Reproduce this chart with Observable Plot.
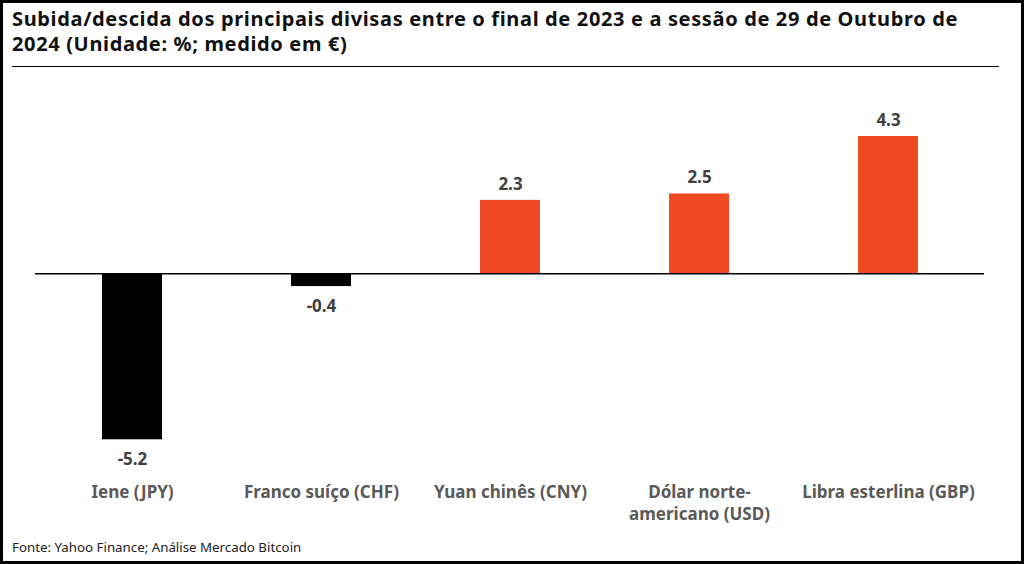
<!DOCTYPE html>
<html>
<head>
<meta charset="utf-8">
<script src="https://cdn.jsdelivr.net/npm/d3@7"></script>
<script src="https://cdn.jsdelivr.net/npm/@observablehq/plot@0.6"></script>
<style>
  html, body { margin: 0; padding: 0; background: #fff; }
  body { width: 1024px; height: 564px; position: relative; overflow: hidden; font-family: "Noto Sans", sans-serif; }
  #frame { position: absolute; left: 0; top: 0; width: 1024px; height: 564px; box-sizing: border-box; border: 3px solid #000; pointer-events: none; }
  #title { position: absolute; left: 12px; top: 6px; font-size: 20px; line-height: 25px; font-weight: 700; color: #111; white-space: nowrap; }
  #title span { display: inline-block; }
  #rule { position: absolute; left: 12px; top: 65.5px; width: 987px; height: 1.5px; background: #000; }
  #chart { position: absolute; left: 0; top: 80px; }
  #caption { position: absolute; left: 12px; top: 538px; font-size: 13.3px; color: #222; }
</style>
</head>
<body>
<div id="title"><span id="t1">Subida/descida dos principais divisas entre o final de 2023 e a sessão de 29 de Outubro de</span><br><span id="t2">2024 (Unidade: %; medido em €)</span></div>
<div id="rule"></div>
<div id="chart"></div>
<div id="caption">Fonte: Yahoo Finance; Análise Mercado Bitcoin</div>
<div id="frame"></div>
<script>
const categories = ["Iene (JPY)", "Franco suíço (CHF)", "Yuan chinês (CNY)", "Dólar norte-americano (USD)", "Libra esterlina (GBP)"];
const values = [-5.2, -0.4, 2.3, 2.5, 4.3];
const labels = ["-5.2", "-0.4", "2.3", "2.5", "4.3"];

const data = categories.map((c, i) => ({name: c, value: values[i], label: labels[i]}));

// fit title first line width to reference
const t1 = document.getElementById("t1");
const target = 946;
const w = t1.getBoundingClientRect().width;
const ls = (target - w) / t1.textContent.length;
t1.style.letterSpacing = ls + "px";
document.getElementById("t2").style.letterSpacing = ls + "px";

const chart = Plot.plot({
  width: 1024,
  height: 460,
  marginLeft: 35,
  marginRight: 40,
  marginTop: 56,
  marginBottom: 100.7,
  style: {fontFamily: "'Noto Sans', sans-serif", background: "transparent"},
  x: {domain: categories, paddingInner: 0.684, paddingOuter: 0.342, label: null},
  y: {domain: [-5.2, 4.3], axis: null},
  marks: [
    Plot.barY(data, {x: "name", y: "value", fill: d => d.value < 0 ? "#000000" : "#EF4A24"}),
    Plot.ruleY([0], {stroke: "#000", strokeWidth: 1.5}),
    Plot.text(data.filter(d => d.value >= 0), {x: "name", y: "value", text: "label", dy: -16, lineAnchor: "middle", fontSize: 17, fontWeight: "bold", fill: "#404040"}),
    Plot.text(data.filter(d => d.value < 0), {x: "name", y: "value", text: "label", dy: 20, lineAnchor: "middle", fontSize: 17, fontWeight: "bold", fill: "#404040"}),
    Plot.axisX({
      tickSize: 0,
      tickPadding: 42,
      fontSize: 17,
      fontWeight: "bold",
      fill: "#595959",
      lineHeight: 1.3,
      tickFormat: d => d.replace("norte-americano", "norte-\namericano")
    })
  ]
});
document.getElementById("chart").appendChild(chart);
</script>
</body>
</html>
